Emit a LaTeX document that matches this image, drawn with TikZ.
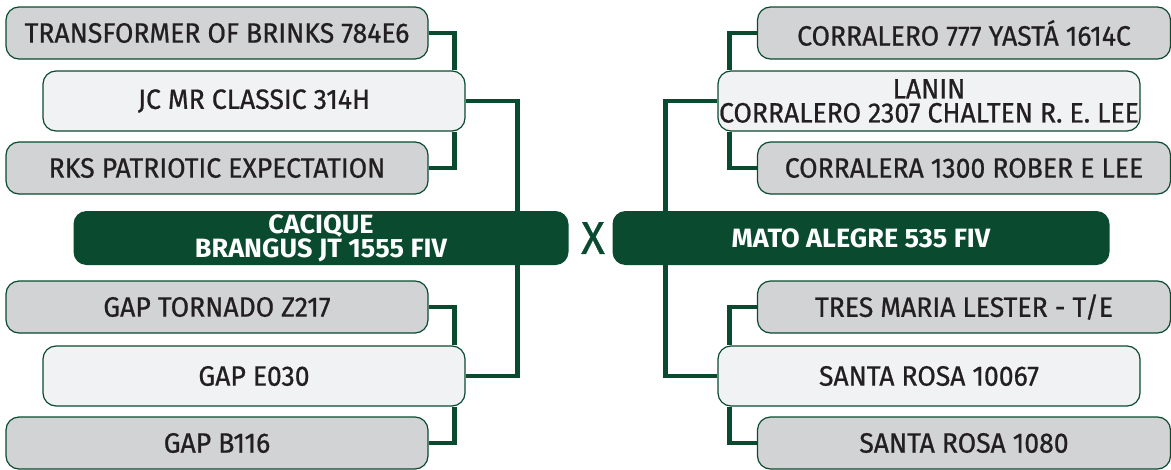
\documentclass[tikz,border=0pt]{standalone}
\usepackage{fontspec}
\setmainfont{Fira Sans}[UprightFeatures={FakeStretch=0.95, FakeBold=0.7},
  BoldFeatures={FakeStretch=1.02}]
\usetikzlibrary{backgrounds}
\definecolor{pinegreen}{HTML}{0A4A2E}
\definecolor{boxgray}{HTML}{D1D3D4}
\definecolor{boxlight}{HTML}{F1F2F4}
\definecolor{inkgray}{HTML}{231F20}

\begin{document}
\begin{tikzpicture}[x=1pt, y=-1pt,
    grand/.style={draw=pinegreen, line width=1.2pt, fill=boxgray, rounded corners=13pt,
      minimum width=422pt, minimum height=52pt, text=inkgray, align=center,
      font=\fontsize{28}{24}\selectfont},
    parent/.style={grand, fill=boxlight, minimum height=60pt},
    mainbox/.style={fill=pinegreen, rounded corners=13pt, minimum width=495pt, minimum height=54pt,
      text=white, align=center, font=\fontsize{26.5}{24}\selectfont\bfseries},
    link/.style={draw=pinegreen, line width=4.3pt}]
  \useasboundingbox (0, 0) rectangle (1171, 469);
  % sire side
  \node[grand] (tob) at (217, 33) {TRANSFORMER OF BRINKS 784E6};
  \node[parent] (jc) at (254, 101) {JC MR CLASSIC 314H};
  \node[grand] (rks) at (217, 168) {RKS PATRIOTIC EXPECTATION};
  \node[mainbox] (cacique) at (321, 238) {CACIQUE\\BRANGUS JT 1555 FIV};
  \node[grand] (tornado) at (217, 307) {GAP TORNADO Z217};
  \node[parent] (e030) at (254, 376) {GAP E030};
  \node[grand] (b116) at (217, 443) {GAP B116};
  % cross
  \node[text=pinegreen, font=\fontsize{46}{46}\selectfont] (cross) at (593, 238) {X};
  % dam side
  \node[grand, minimum width=413pt] (yasta) at (964, 33) {CORRALERO 777 YASTÁ 1614C};
  \node[parent, inner xsep=0pt] (lanin) at (929, 101) {LANIN\\CORRALERO 2307 CHALTEN R. E. LEE};
  \node[grand, minimum width=413pt] (rober) at (964, 168) {CORRALERA 1300 ROBER E LEE};
  \node[mainbox, minimum width=497pt] (mato) at (861, 238) {MATO ALEGRE 535 FIV};
  \node[grand, minimum width=413pt] (lester) at (964, 307) {TRES MARIA LESTER - T/E};
  \node[parent] (rosa) at (929, 376) {SANTA ROSA 10067};
  \node[grand, minimum width=413pt] (rosb) at (964, 443) {SANTA ROSA 1080};
  \begin{scope}[on background layer]
    \draw[link] (tob.east) -| ([xshift=-11pt]jc.north east);
    \draw[link] (rks.east) -| ([xshift=-11pt]jc.south east);
    \draw[link] (tornado.east) -| ([xshift=-11pt]e030.north east);
    \draw[link] (b116.east) -| ([xshift=-11pt]e030.south east);
    \draw[link] (jc.east) -- ++(52, 0) |- (e030.east);
    \draw[link] (yasta.west) -| ([xshift=12pt]lanin.north west);
    \draw[link] (rober.west) -| ([xshift=12pt]lanin.south west);
    \draw[link] (lester.west) -| ([xshift=12pt]rosa.north west);
    \draw[link] (rosb.west) -| ([xshift=12pt]rosa.south west);
    \draw[link] (lanin.west) -- ++(-52, 0) |- (rosa.west);
  \end{scope}
\end{tikzpicture}
\end{document}
